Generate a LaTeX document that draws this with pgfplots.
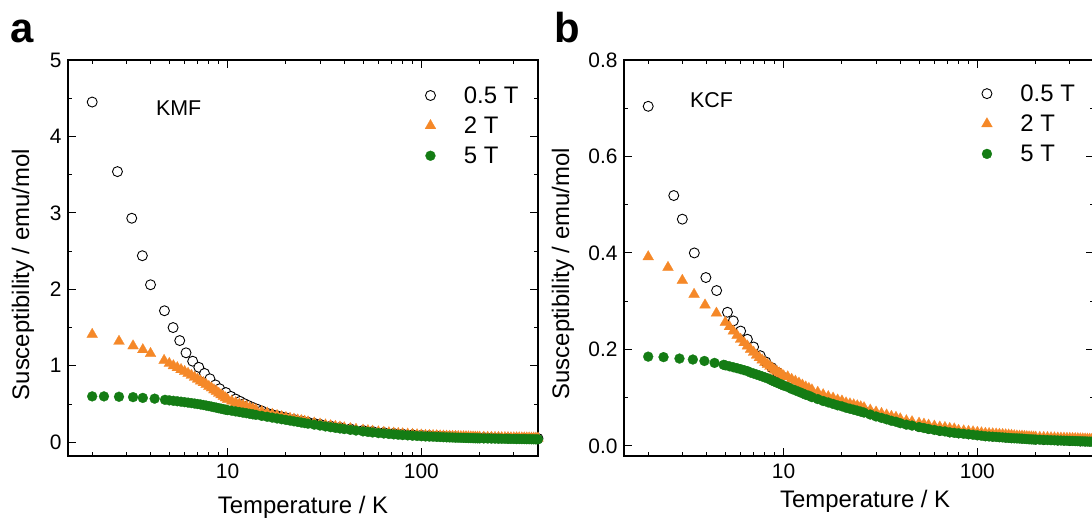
\documentclass[border=0pt]{standalone}
\usepackage{fontspec}
\setmainfont{Liberation Sans}
\usepackage{pgfplots}
\usepackage{pgfplotstable}
\pgfplotsset{compat=1.18}
\definecolor{orng}{RGB}{245,136,40}
\definecolor{grn}{RGB}{20,124,20}

% ---------------- Panel a: KMF ----------------
\pgfplotstableread{
T chi
2.0 4.45
2.7 3.54
3.2 2.93
3.63 2.44
4.0 2.06
4.72 1.72
5.23 1.50
5.66 1.33
6.1 1.17
6.6 1.06
7.1 0.98
7.6 0.90
8.1 0.83
8.65 0.75
9.1 0.70
9.8 0.65
10.4 0.60
11 0.565
11.6 0.535
12.2 0.505
12.8 0.48
13.5 0.455
14.3 0.43
15 0.41
16 0.38
17 0.362
18 0.347
19 0.333
20 0.320
22 0.298
24 0.279
26 0.262
28 0.247
30 0.235
34 0.212
38 0.194
43 0.175
50 0.155
56 0.141
64 0.127
72 0.116
80 0.107
90 0.099
100 0.092
110 0.087
120 0.082
130 0.078
140 0.075
150 0.072
170 0.067
190 0.063
210 0.061
230 0.058
250 0.056
280 0.054
310 0.053
340 0.051
370 0.050
400 0.049
}\aA

\pgfplotstableread{
T chi
2.0 1.41
2.75 1.32
3.25 1.26
3.65 1.21
4.0 1.16
4.7 1.07
5.0 1.03
5.25 1.00
5.5 0.975
5.75 0.95
6.0 0.925
6.25 0.90
6.5 0.875
6.75 0.85
7.0 0.825
7.25 0.80
7.5 0.78
7.75 0.755
8.0 0.73
8.25 0.71
8.5 0.685
8.75 0.665
9.0 0.64
9.25 0.62
9.5 0.60
9.75 0.58
10.0 0.56
10.5 0.537
11 0.518
11.5 0.500
12 0.483
12.5 0.468
13 0.452
13.5 0.438
14 0.425
15 0.402
16 0.382
17 0.365
18 0.349
19 0.335
20 0.323
21 0.312
22 0.301
23 0.291
24 0.282
25 0.273
26 0.265
28 0.251
30 0.238
32 0.226
34 0.216
36 0.206
38 0.198
40 0.189
43 0.178
46 0.169
50 0.158
53 0.151
56 0.144
60 0.136
64 0.130
68 0.124
72 0.119
76 0.114
80 0.110
85 0.106
90 0.102
95 0.098
100 0.094
105 0.091
110 0.089
115 0.087
120 0.085
125 0.083
130 0.081
135 0.0795
140 0.078
145 0.0765
150 0.075
155 0.074
160 0.073
165 0.072
170 0.071
175 0.070
180 0.069
185 0.068
190 0.067
195 0.0665
200 0.066
210 0.065
220 0.064
230 0.063
240 0.062
250 0.061
260 0.060
270 0.060
280 0.059
290 0.058
300 0.058
310 0.057
320 0.057
330 0.056
340 0.056
350 0.055
360 0.055
370 0.054
380 0.054
390 0.053
400 0.053
}\aB

\pgfplotstableread{
T chi
2.0 0.60
2.3 0.60
2.75 0.595
3.25 0.59
3.65 0.58
4.2 0.57
4.75 0.555
5.0 0.548
5.25 0.542
5.5 0.536
5.75 0.530
6.0 0.524
6.25 0.518
6.5 0.512
6.75 0.506
7.0 0.500
7.25 0.494
7.5 0.487
7.75 0.480
8.0 0.473
8.25 0.466
8.5 0.459
8.75 0.452
9.0 0.445
9.25 0.439
9.5 0.432
9.75 0.426
10.0 0.420
10.5 0.412
11 0.403
11.5 0.395
12 0.387
12.5 0.380
13 0.372
13.5 0.365
14 0.358
15 0.345
16 0.333
17 0.322
18 0.311
19 0.301
20 0.292
21 0.283
22 0.274
23 0.266
24 0.258
25 0.250
26 0.243
28 0.230
30 0.218
32 0.207
34 0.197
36 0.188
38 0.180
40 0.172
43 0.162
46 0.153
50 0.142
53 0.135
56 0.128
60 0.120
64 0.114
68 0.108
72 0.103
76 0.098
80 0.094
85 0.090
90 0.086
95 0.082
100 0.079
105 0.076
110 0.074
115 0.072
120 0.070
125 0.068
130 0.066
135 0.0645
140 0.063
145 0.0615
150 0.060
155 0.059
160 0.058
165 0.057
170 0.056
175 0.055
180 0.054
185 0.053
190 0.052
195 0.0515
200 0.051
210 0.050
220 0.049
230 0.048
240 0.047
250 0.046
260 0.045
270 0.045
280 0.044
290 0.043
300 0.043
310 0.042
320 0.042
330 0.041
340 0.041
350 0.040
360 0.040
370 0.039
380 0.039
390 0.038
400 0.038
}\aC

% ---------------- Panel b: KCF ----------------
\pgfplotstableread{
T chi
2.0 0.704
2.71 0.519
3.0 0.470
3.46 0.400
3.97 0.349
4.51 0.322
5.13 0.277
5.5 0.259
6.0 0.238
6.5 0.221
7.0 0.205
7.57 0.187
8.1 0.174
8.7 0.162
9.3 0.152
10.0 0.142
10.5 0.136
11 0.130
11.5 0.125
12 0.120
12.5 0.116
13 0.112
13.5 0.109
14 0.106
15 0.101
16 0.097
17 0.093
18 0.090
19 0.087
20 0.084
22 0.079
24 0.075
26 0.071
28 0.067
30 0.063
34 0.057
38 0.052
43 0.046
50 0.040
56 0.036
64 0.032
72 0.029
80 0.027
90 0.025
100 0.023
110 0.021
120 0.020
130 0.019
140 0.018
150 0.017
170 0.016
190 0.015
200 0.014
220 0.013
240 0.013
260 0.012
280 0.012
300 0.011
320 0.011
340 0.010
360 0.010
380 0.010
400 0.009
}\bA

\pgfplotstableread{
T chi
2.0 0.392
2.53 0.370
3.0 0.343
3.45 0.314
3.93 0.292
4.5 0.275
5.0 0.256
5.25 0.247
5.5 0.238
5.75 0.229
6.0 0.221
6.25 0.214
6.5 0.207
6.75 0.200
7.0 0.194
7.25 0.188
7.5 0.183
7.75 0.178
8.0 0.173
8.25 0.169
8.5 0.165
8.75 0.161
9.0 0.157
9.25 0.154
9.5 0.151
9.75 0.148
10.0 0.145
10.5 0.143
11 0.138
11.5 0.134
12 0.130
12.5 0.126
13 0.122
13.5 0.119
14 0.116
15 0.111
16 0.106
17 0.102
18 0.099
19 0.095
20 0.093
21 0.089
22 0.087
23 0.085
24 0.083
25 0.081
26 0.079
28 0.074
30 0.070
32 0.067
34 0.064
36 0.061
38 0.059
40 0.056
43 0.052
46 0.050
50 0.047
53 0.045
56 0.043
60 0.041
64 0.039
68 0.038
72 0.036
76 0.035
80 0.032
85 0.031
90 0.030
95 0.029
100 0.028
105 0.027
110 0.026
115 0.0255
120 0.025
125 0.0245
130 0.024
135 0.0235
140 0.023
145 0.0225
150 0.022
155 0.021
160 0.0205
165 0.020
170 0.020
175 0.0195
180 0.019
185 0.0187
190 0.0185
195 0.0182
200 0.018
210 0.0177
220 0.0174
230 0.0171
240 0.0168
250 0.0165
260 0.0162
270 0.016
280 0.0158
290 0.0156
300 0.0154
310 0.0152
320 0.015
330 0.0148
340 0.0146
350 0.0144
360 0.0142
370 0.014
380 0.0138
390 0.0136
400 0.0135
}\bB

\pgfplotstableread{
T chi
2.0 0.185
2.4 0.184
2.9 0.181
3.4 0.179
3.9 0.176
4.4 0.172
4.9 0.168
5.0 0.167
5.25 0.165
5.5 0.163
5.75 0.161
6.0 0.159
6.25 0.157
6.5 0.155
6.75 0.152
7.0 0.150
7.25 0.148
7.5 0.146
7.75 0.144
8.0 0.142
8.25 0.140
8.5 0.138
8.75 0.135
9.0 0.133
9.25 0.131
9.5 0.129
9.75 0.127
10.0 0.125
10.5 0.122
11 0.118
11.5 0.115
12 0.112
12.5 0.109
13 0.106
13.5 0.104
14 0.101
15 0.097
16 0.093
17 0.090
18 0.087
19 0.084
20 0.082
21 0.079
22 0.077
23 0.075
24 0.073
25 0.071
26 0.069
28 0.065
30 0.061
32 0.058
34 0.055
36 0.052
38 0.050
40 0.047
43 0.044
46 0.042
50 0.039
53 0.037
56 0.035
60 0.033
64 0.031
68 0.030
72 0.028
76 0.027
80 0.026
85 0.025
90 0.024
95 0.023
100 0.022
105 0.021
110 0.020
115 0.0195
120 0.019
125 0.0185
130 0.018
135 0.0175
140 0.017
145 0.0165
150 0.016
155 0.0157
160 0.0155
165 0.0152
170 0.015
175 0.0145
180 0.014
185 0.0137
190 0.0135
195 0.0132
200 0.013
210 0.0127
220 0.0124
230 0.0121
240 0.0118
250 0.0115
260 0.0112
270 0.011
280 0.0108
290 0.0106
300 0.0104
310 0.0102
320 0.010
330 0.0098
340 0.0096
350 0.0094
360 0.0092
370 0.009
380 0.0088
390 0.0086
400 0.0085
}\bC

\begin{document}
\begin{tikzpicture}
\useasboundingbox (0,0) rectangle (1092bp,520bp);

\node[anchor=base west, inner sep=0pt, font=\fontsize{42}{46}\selectfont\bfseries] at (10.5bp,477bp) {a};
\node[anchor=base west, inner sep=0pt, font=\fontsize{42}{46}\selectfont\bfseries] at (554bp,477bp) {b};

\begin{axis}[
  xmode=log,
  scale only axis, width=470bp, height=396bp,
  at={(68bp,64bp)}, anchor=south west,
  xmin=1.5, xmax=400,
  xtick={10,100},
  minor xtick={2,3,4,5,6,7,8,9,20,30,40,50,60,70,80,90,200,300},
  log ticks with fixed point,
  tick align=inside,
  major tick length=8bp, minor tick length=4.3bp,
  tick style={black, line width=1bp},
  axis line style={black, line width=1.2bp},
  /pgf/number format/assume math mode=true,
  ticklabel style={font=\fontsize{21}{24}\selectfont},
  xticklabel style={yshift=-4bp},
  yticklabel style={xshift=-3bp},
  label style={font=\fontsize{24}{28}\selectfont},
  xlabel={Temperature / K},
  ylabel={Susceptibility / emu/mol},
  ymin=-0.18, ymax=5,
  ytick={0,1,2,3,4,5}, minor y tick num=1,
  xlabel style={at={(rel axis cs:0.5,-0.144)}, anchor=base},
  ylabel style={at={(rel axis cs:-0.096,0.458)}, anchor=center},
  legend cell align=left,
  legend image code/.code={\draw[#1] plot coordinates {(0bp,0bp)};},
  legend style={draw=none, fill=none, inner sep=0pt, outer sep=0pt,
    at={(rel axis cs:0.7596,0.9333)}, anchor=north west,
    font=\fontsize{24}{28}\selectfont, row sep=12bp,
    nodes={inner sep=0pt},
    /tikz/every odd column/.append style={column sep=28bp}},
]
\addplot[black, only marks, mark=*, mark size=5bp, mark options={draw=black, fill=white, line width=0.9bp}] table[x=T, y=chi] {\aA};
\addplot[orng, only marks, mark=triangle*, mark size=6.3bp, mark options={draw=orng, fill=orng, line width=0.2bp}] table[x=T, y=chi] {\aB};
\addplot[grn, only marks, mark=*, mark size=5bp, mark options={draw=grn, fill=grn, line width=0.2bp}] table[x=T, y=chi] {\aC};
\legend{0.5 T, 2 T, 5 T}
\node[anchor=west, inner sep=0pt, font=\fontsize{21.5}{24}\selectfont] at (rel axis cs:0.187,0.8775) {KMF};
\end{axis}

\begin{axis}[
  xmode=log,
  scale only axis, width=470bp, height=396bp,
  at={(624bp,64bp)}, anchor=south west,
  xmin=1.5, xmax=400,
  xtick={10,100},
  minor xtick={2,3,4,5,6,7,8,9,20,30,40,50,60,70,80,90,200,300},
  log ticks with fixed point,
  tick align=inside,
  major tick length=8bp, minor tick length=4.3bp,
  tick style={black, line width=1bp},
  axis line style={black, line width=1.2bp},
  /pgf/number format/assume math mode=true,
  ticklabel style={font=\fontsize{21}{24}\selectfont},
  xticklabel style={yshift=-4bp},
  yticklabel style={xshift=-3bp, /pgf/number format/fixed, /pgf/number format/fixed zerofill, /pgf/number format/precision=1},
  label style={font=\fontsize{24}{28}\selectfont},
  xlabel={Temperature / K},
  ylabel={Susceptibility / emu/mol},
  ymin=-0.021, ymax=0.8,
  ytick={0,0.2,0.4,0.6,0.8}, minor y tick num=1,
  xlabel style={at={(rel axis cs:0.513,-0.129)}, anchor=base},
  ylabel style={at={(rel axis cs:-0.1298,0.46)}, anchor=center},
  legend cell align=left,
  legend image code/.code={\draw[#1] plot coordinates {(0bp,0bp)};},
  legend style={draw=none, fill=none, inner sep=0pt, outer sep=0pt,
    at={(rel axis cs:0.7606,0.938)}, anchor=north west,
    font=\fontsize{24}{28}\selectfont, row sep=12bp,
    nodes={inner sep=0pt},
    /tikz/every odd column/.append style={column sep=28bp}},
]
\addplot[black, only marks, mark=*, mark size=5bp, mark options={draw=black, fill=white, line width=0.9bp}] table[x=T, y=chi] {\bA};
\addplot[orng, only marks, mark=triangle*, mark size=6.3bp, mark options={draw=orng, fill=orng, line width=0.2bp}] table[x=T, y=chi] {\bB};
\addplot[grn, only marks, mark=*, mark size=5bp, mark options={draw=grn, fill=grn, line width=0.2bp}] table[x=T, y=chi] {\bC};
\legend{0.5 T, 2 T, 5 T}
\node[anchor=west, inner sep=0pt, font=\fontsize{21.5}{24}\selectfont] at (rel axis cs:0.140,0.898) {KCF};
\end{axis}
\end{tikzpicture}
\end{document}
